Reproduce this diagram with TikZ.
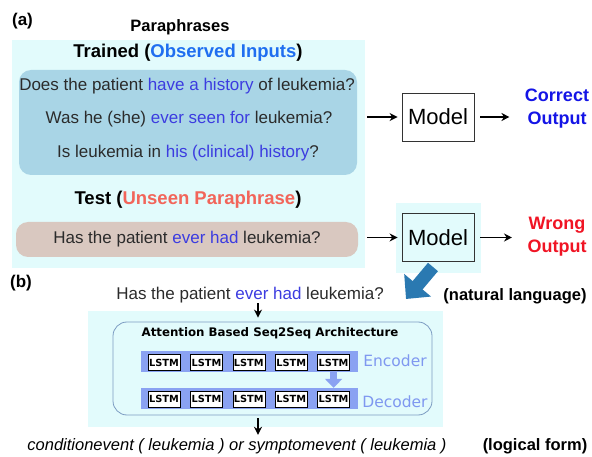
\documentclass[tikz,border=0pt]{standalone}
\usepackage{fontspec}
\setmainfont{Liberation Sans}
\newfontfamily\archfont{DejaVu Sans}
\usetikzlibrary{arrows.meta,positioning}

\definecolor{paracyan}{HTML}{E2FBFC}
\definecolor{trainblue}{HTML}{A9D5E6}
\definecolor{testbrown}{HTML}{D9C8C0}
\definecolor{obsblue}{HTML}{1F6EF0}
\definecolor{unseenred}{HTML}{F2655A}
\definecolor{wordblue}{HTML}{3C3CE0}
\definecolor{okblue}{HTML}{1414E6}
\definecolor{badred}{HTML}{F01424}
\definecolor{lstmblue}{HTML}{8AA2F2}
\definecolor{codertext}{HTML}{7F98F0}
\definecolor{archedge}{HTML}{7C9CC2}
\definecolor{nlarrow}{HTML}{2A79B1}
\definecolor{sentgray}{HTML}{2B2B2B}

\newcommand{\pxsize}[1]{\fontsize{#1}{#1}\selectfont}

\begin{document}
\begin{tikzpicture}[x=1pt,y=-1pt,
    panel/.style={fill=paracyan, inner sep=0pt},
    sent/.style={text=sentgray, font=\pxsize{17}},
    head/.style={font=\bfseries\pxsize{18.5}},
    tag/.style={font=\bfseries\pxsize{16.5}},
    model/.style={draw=black!80, line width=0.8pt, minimum width=72pt, minimum height=48pt, font=\pxsize{22}},
    outlabel/.style={font=\bfseries\fontsize{18}{23}\selectfont, align=center},
    arr/.style={line width=1.5pt, -{Stealth[length=8pt,width=8pt]}},
    strip/.style={fill=lstmblue, minimum width=217pt, minimum height=21pt, inner sep=0pt},
    lstm/.style={draw, line width=0.4pt, fill=white, minimum width=32pt, minimum height=16pt, inner sep=0pt, font=\archfont\bfseries\pxsize{9.8}},
    coder/.style={text=codertext, font=\archfont\pxsize{15.5}}]
    \useasboundingbox (0,0) rectangle (592,457);

    % (a) paraphrases
    \node[panel, minimum width=353pt, minimum height=228pt] (paraBg) at (188.5,154) {};
    \node[font=\bfseries\pxsize{17}] (tagA) at (22.5,21) {(a)};
    \node[tag] (paraTitle) at (180,27) {Paraphrases};
    \node[head] (trainHead) at (188,53) {Trained ({\color{obsblue}Observed Inputs})};
    \node[fill=trainblue, rounded corners=12pt, minimum width=338pt, minimum height=105pt] (trainBox) at (188,122.5) {};
    \node[sent] (trainA) at (187,86) {Does the patient {\color{wordblue}have a history} of leukemia?};
    \node[sent] (trainB) at (189,119) {Was he (she) {\color{wordblue}ever seen for} leukemia?};
    \node[sent] (trainC) at (188,153) {Is leukemia in {\color{wordblue}his (clinical) history}?};
    \node[head] (testHead) at (188,200) {Test ({\color{unseenred}Unseen Paraphrase})};
    \node[sent, fill=testbrown, rounded corners=12pt, minimum width=342pt, minimum height=35pt] (testQ) at (187,239.5) {Has the patient {\color{wordblue}ever had} leukemia?};

    % models
    \node[panel, minimum width=85pt, minimum height=70pt] (hlBg) at (438.5,238) {};
    \node[model] (modelA) at (438,117) {Model};
    \node[model] (modelB) at (438,237.5) {Model};
    \node[outlabel, text=okblue] (okOut) at (557,108.5) {Correct\\Output};
    \node[outlabel, text=badred] (badOut) at (557,237) {Wrong\\Output};

    \draw[arr, shorten <=10pt, shorten >=4pt] (trainBox.east |- modelA) -- (modelA);
    \draw[arr, shorten <=6pt, shorten >=12pt] (modelA) -- (modelA -| okOut.west);
    \draw[arr, shorten <=9pt, shorten >=4pt] (testQ.east |- modelB) -- (modelB);
    \draw[arr, shorten <=6pt, shorten >=12pt] (modelB) -- (modelB -| badOut.west);

    \coordinate (nlTail) at (433,267);
    \coordinate (nlTip) at (406,299);
    \draw[nlarrow, line width=13pt, -{Triangle[length=18pt,width=34pt]}] (nlTail) -- (nlTip);
    \node[tag] (nlTag) at (515,296) {(natural language)};

    % (b) seq2seq
    \node[font=\bfseries\pxsize{17}] (tagB) at (21,283) {(b)};
    \node[sent] (query) at (250,295) {Has the patient {\color{wordblue}ever had} leukemia?};
    \node[panel, minimum width=355pt, minimum height=116pt] (archBg) at (265.5,369) {};
    \node[draw=archedge, line width=0.8pt, rounded corners=14pt, minimum width=319pt, minimum height=93pt] (archBox) at (272.5,368.5) {};
    \node[font=\archfont\bfseries\pxsize{11.8}] (archTitle) at (270,333) {Attention Based Seq2Seq Architecture};
    \node[strip] (encStrip) at (249.5,361.5) {};
    \node[strip] (decStrip) at (249.5,398.5) {};
    \foreach \i in {1,...,5} {
        \node[lstm] (enc\i) at ({121.6+42.4*\i},362.5) {LSTM};
        \node[lstm] (dec\i) at ({121.6+42.4*\i},399) {LSTM};
    }
    \draw[lstmblue, line width=7pt, -{Triangle[length=9pt,width=17pt]}] (enc5.south) -- (decStrip.north -| enc5);
    \node[coder] (encTag) at (395,360.5) {Encoder};
    \node[coder] (decTag) at (395,402) {Decoder};

    \coordinate (flowX) at (258,0);
    \node[font=\itshape\pxsize{16.5}] (lf) at (237,446) {conditionevent ( leukemia ) or symptomevent ( leukemia )};
    \node[tag] (lfTag) at (535,446) {(logical form)};
    \draw[arr, shorten <=-3pt, shorten >=4pt] (query.south -| flowX) -- (archBox.north -| flowX);
    \draw[arr, shorten <=3pt] (archBox.south -| flowX) -- (lf.north -| flowX);
\end{tikzpicture}
\end{document}
